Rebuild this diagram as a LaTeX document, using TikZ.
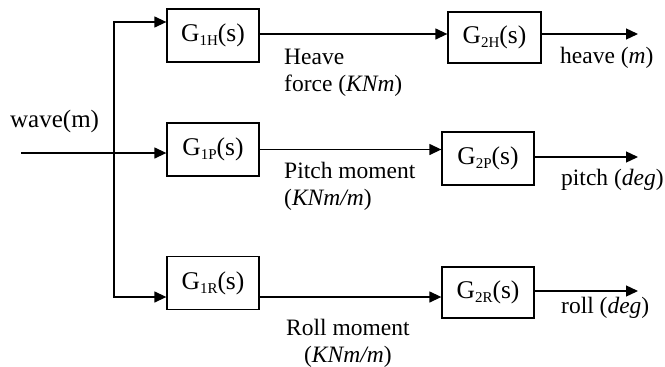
\documentclass[tikz,border=0pt]{standalone}
\usepackage{fontspec}
\setmainfont{Liberation Serif}
\usetikzlibrary{arrows.meta}
\newcommand\gsub[1]{\raisebox{-0.35ex}{\fontsize{15}{15}\selectfont #1}}
\begin{document}
\begin{tikzpicture}[x=1pt,y=-1pt,
  blk/.style={draw, line width=1.3pt, minimum width=92pt, minimum height=53pt, inner sep=0pt, font=\fontsize{25.5}{28}\selectfont},
  lbl/.style={inner sep=0pt, font=\fontsize{23.5}{27}\selectfont},
  wire/.style={line width=1.3pt, line join=miter},
  arr/.style={wire, -{Triangle[length=12pt,width=11pt]}}]
\useasboundingbox (0,0) rectangle (665,367);
\node[blk] (g1h) at (213,35.5) {G\gsub{1H}(s)};
\node[blk] (g1p) at (213,149.5) {G\gsub{1P}(s)};
\node[blk] (g1r) at (213,283) {G\gsub{1R}(s)};
\node[blk, minimum width=93pt, minimum height=51pt] (g2h) at (494.5,37.5) {G\gsub{2H}(s)};
\node[blk] (g2p) at (488,158.5) {G\gsub{2P}(s)};
\node[blk, minimum height=51pt] (g2r) at (488,292.5) {G\gsub{2R}(s)};
\coordinate (in) at (21,153);
\coordinate (split) at (114,153);
\coordinate (top) at (114,22);
\coordinate (bot) at (114,297);
\coordinate (oh) at (638,34);
\coordinate (op) at (638,157);
\coordinate (or) at (638,291);
\draw[arr] (in) -- (in -| g1p.west);
\draw[arr] (split) -- (top) -- (top -| g1h.west);
\draw[arr] (split) -- (bot) -- (bot -| g1r.west);
\draw[arr] (g1h.east |- oh) -- (oh -| g2h.west);
\draw[arr] (g1p.east) -- (g1p.east -| g2p.west);
\draw[arr] (g1r.east |- bot) -- (bot -| g2r.west);
\draw[arr] (g2h.east |- oh) -- (oh);
\draw[arr] (g2p.east |- op) -- (op);
\draw[arr] (g2r.east |- or) -- (or);
\node[lbl, anchor=base west, font=\fontsize{25}{28}\selectfont] (wave) at (10,127) {wave(m)};
\node[lbl, anchor=base west, align=left] (hf) at (284,91) {Heave\\force (\textit{KNm})};
\node[lbl, anchor=base west, align=left] (pm) at (284,205) {Pitch moment\\(\textit{KNm/m})};
\node[lbl, anchor=base west, align=center] (rm) at (286,362) {Roll moment\\(\textit{KNm/m})};
\node[lbl, anchor=base west] (ho) at (560,63) {heave (\textit{m})};
\node[lbl, anchor=base west] (po) at (561,185) {pitch (\textit{deg})};
\node[lbl, anchor=base west] (ro) at (561,313) {roll (\textit{deg})};
\end{tikzpicture}
\end{document}
